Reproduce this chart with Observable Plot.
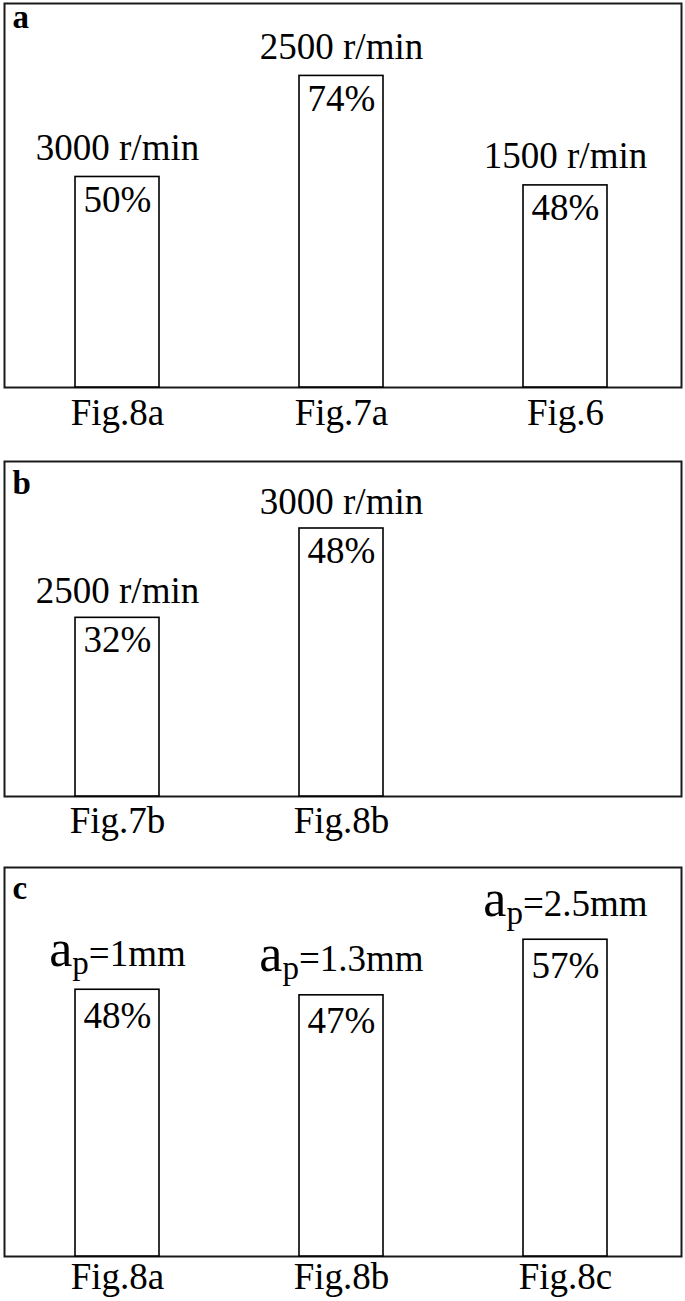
<!DOCTYPE html>
<html>
<head>
<meta charset="utf-8">
<script src="https://cdn.jsdelivr.net/npm/d3@7"></script>
<script src="https://cdn.jsdelivr.net/npm/@observablehq/plot@0.6"></script>
<style>
  html, body { margin: 0; padding: 0; background: white; }
  #chart { width: 685px; }
  #chart svg { display: block; }
</style>
</head>
<body>
<div id="chart"></div>
<script>
// ---- data ----
const panelALetter = "a";
const panelACategories = ["Fig.8a", "Fig.7a", "Fig.6"];
const panelAValues = [50, 74, 48];
const panelALabels = ["3000 r/min", "2500 r/min", "1500 r/min"];

const panelBLetter = "b";
const panelBCategories = ["Fig.7b", "Fig.8b"];
const panelBValues = [32, 48];
const panelBLabels = ["2500 r/min", "3000 r/min"];

const panelCLetter = "c";
const panelCCategories = ["Fig.8a", "Fig.8b", "Fig.8c"];
const panelCValues = [48, 47, 57];
const panelCDepths = ["1", "1.3", "2.5"];
const panelCLabels = panelCDepths.map(d => "ap=" + d + "mm");

const slotCount = 3;
const FONT = "'Liberation Serif', 'Times New Roman', Times, serif";

function makePanel(cfg) {
  const data = cfg.cats.map((c, i) => ({cat: c, value: cfg.values[i], label: cfg.labels[i]}));
  const domain = cfg.cats.concat(d3.range(slotCount - cfg.cats.length).map(i => "_" + i));
  return Plot.plot({
    width: 685,
    height: cfg.height,
    marginTop: cfg.mt,
    marginBottom: cfg.mb,
    marginLeft: 4,
    marginRight: 4,
    style: {fontFamily: FONT, fontSize: "37px", background: "white", color: "black"},
    x: {domain, paddingInner: 0.627, paddingOuter: 0.318, align: 0.49, label: null},
    y: {domain: [0, cfg.ymax], axis: null},
    marks: [
      Plot.frame({stroke: "#1a1a1a", strokeWidth: 2}),
      Plot.barY(data, {x: "cat", y: "value", fill: "white", stroke: "black", strokeWidth: 1.6}),
      Plot.text(data, {x: "cat", y: "value", text: d => d.value + "%", lineAnchor: "bottom", dy: cfg.valueDy, fontSize: 37, fill: "black"}),
      Plot.text(data, {x: "cat", y: "value", text: "label", lineAnchor: "bottom", dy: -cfg.labelDy, fontSize: 37, fill: "black"}),
      Plot.axisX({tickSize: 0, tickPadding: cfg.tickPadding, fontSize: 37, label: null, tickFormat: d => d.startsWith("_") ? "" : d}),
      Plot.text([cfg.letter], {frameAnchor: "top-left", dx: 8, dy: cfg.letterDy, lineAnchor: "bottom", textAnchor: "start", fontWeight: "bold", fontSize: 33, fill: "black"})
    ]
  });
}

const chart = document.getElementById("chart");

chart.append(makePanel({letter: panelALetter, cats: panelACategories, values: panelAValues, labels: panelALabels,
  height: 445, mt: 3, mb: 58, ymax: 91.2, labelDy: 17, valueDy: 35, tickPadding: 11, letterDy: 24}));
chart.append(makePanel({letter: panelBLetter, cats: panelBCategories, values: panelBValues, labels: panelBLabels,
  height: 405, mt: 16, mb: 54, ymax: 60, labelDy: 15, valueDy: 34, tickPadding: 10, letterDy: 32}));
const svgC = makePanel({letter: panelCLetter, cats: panelCCategories, values: panelCValues, labels: panelCLabels,
  height: 451, mt: 17, mb: 45, ymax: 70, labelDy: 24, valueDy: 38, tickPadding: 6, letterDy: 31});
chart.append(svgC);

// subscript formatting for a_p labels
d3.select(svgC).selectAll("text").filter(function() {
  return this.textContent.startsWith("ap=");
}).each(function() {
  const t = this.textContent;
  const rest = t.slice(2);
  const sel = d3.select(this);
  sel.text(null);
  sel.append("tspan").attr("font-size", 52).text("a");
  sel.append("tspan").attr("font-size", 33).attr("dy", 8).text("p");
  sel.append("tspan").attr("font-size", 37).attr("dy", -8).text(rest);
});
</script>
</body>
</html>
